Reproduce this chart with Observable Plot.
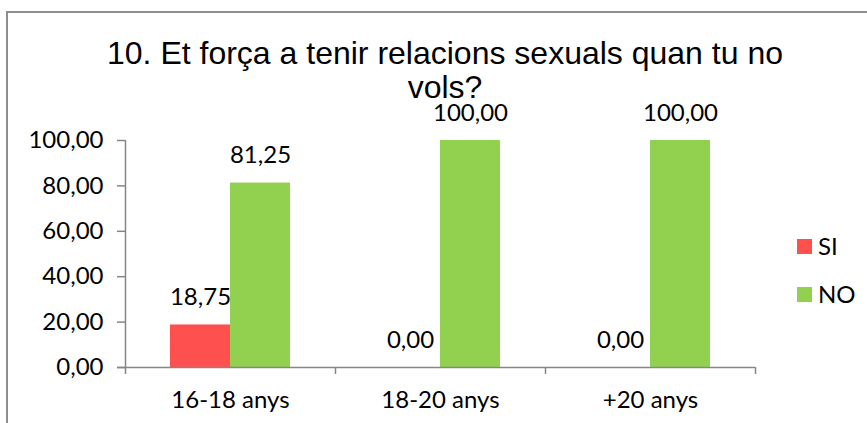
<!DOCTYPE html>
<html><head><meta charset="utf-8">
<script src="https://cdn.jsdelivr.net/npm/d3@7"></script>
<script src="https://cdn.jsdelivr.net/npm/@observablehq/plot@0.6"></script>
<style>
body{margin:0;background:#fff;}
#chart{position:relative;width:867px;height:423px;overflow:hidden;font-family:Lato,sans-serif;color:#000;}
#frame{position:absolute;left:6px;top:11px;width:900px;height:500px;border-top:2px solid #8e8e8e;border-left:2px solid #8e8e8e;}
#title{position:absolute;left:85px;width:720px;top:36px;text-align:center;font-family:"Liberation Sans",Arial,sans-serif;font-size:32px;line-height:34px;color:#000;}
#plot{position:absolute;left:0;top:100px;}
#plot svg{overflow:visible;}
.lg{position:absolute;left:797px;display:flex;align-items:center;font-size:24px;line-height:1;}
.lg i{display:inline-block;width:15px;height:15px;margin-right:6px;}
</style></head>
<body>
<div id="chart">
  <div id="frame"></div>
  <div id="title">10. Et força a tenir relacions sexuals quan tu no<br>vols?</div>
  <div id="plot"></div>
  <div id="legend"></div>
</div>
<script>
const categories = ["16-18 anys", "18-20 anys", "+20 anys"];
const seriesNames = ["SI", "NO"];
const siValues = [18.75, 0, 0];
const noValues = [81.25, 100, 100];
const yTicks = [0, 20, 40, 60, 80, 100];
const seriesColors = ["#FF5050", "#92D050"];

const fmt = d => d.toFixed(2).replace(".", ",");
const barFrac = 60 / 210;           // bar width as a fraction of a category slot
const gapFrac = (1 - 2 * barFrac) / 2;
const values = [siValues, noValues];
const rows = [];
categories.forEach((cat, i) => {
  seriesNames.forEach((s, k) => {
    const x1 = i + gapFrac + k * barFrac;
    rows.push({cat, series: s, value: values[k][i], x1, x2: x1 + barFrac});
  });
});

const axisColor = "#868686";
const chart = Plot.plot({
  width: 867, height: 323,
  marginTop: 40, marginBottom: 56, marginLeft: 125, marginRight: 112,
  style: {fontFamily: "Lato, sans-serif", color: "#000", background: "transparent"},
  x: {domain: [0, categories.length], axis: null},
  y: {domain: [0, 100], axis: null},
  color: {domain: seriesNames, range: seriesColors},
  marks: [
    Plot.rect(rows, {x1: "x1", x2: "x2", y1: 0, y2: "value", fill: "series"}),
    Plot.ruleX([0], {stroke: axisColor, strokeWidth: 1.5}),
    Plot.ruleY([0], {stroke: axisColor, strokeWidth: 1.5, insetLeft: -8}),
    Plot.axisY({ticks: yTicks, tickSize: 8, tickPadding: 14, tickFormat: fmt, fontSize: 24,
      stroke: axisColor, strokeWidth: 1.5, fill: "#000", label: null}),
    Plot.axisX({ticks: d3.range(categories.length + 1), tickSize: 7, tickFormat: () => "",
      stroke: axisColor, strokeWidth: 1.5, label: null}),
    Plot.axisX({ticks: categories.map((c, i) => i + 0.5), tickSize: 0, tickPadding: 23,
      tickFormat: d => categories[Math.floor(d)], fontSize: 24, fill: "#000", label: null}),
    Plot.text(rows, {x: d => (d.x1 + d.x2) / 2, y: "value", text: d => fmt(d.value),
      lineAnchor: "bottom", dy: -20, fontSize: 24, fill: "#000"})
  ]
});
document.getElementById("plot").appendChild(chart);

const legend = document.getElementById("legend");
const legendTops = [238, 286];
seriesNames.forEach((s, k) => {
  const el = document.createElement("div");
  el.className = "lg";
  el.style.top = (legendTops[k] - 4) + "px";
  el.innerHTML = `<i style="background:${seriesColors[k]}"></i><span>${s}</span>`;
  legend.appendChild(el);
});
</script>
</body></html>
